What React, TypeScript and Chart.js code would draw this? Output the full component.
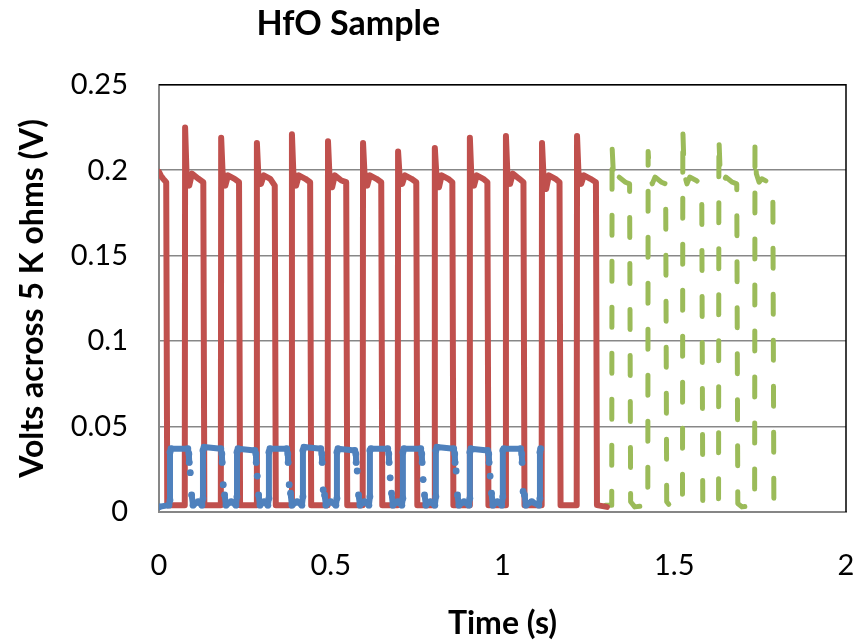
import React, { useEffect, useRef } from "react";
import { Chart, registerables } from "chart.js";

Chart.register(...registerables);

const FONT = "Lato";

const chartTitle = "HfO Sample";
const xTitle = "Time (s)";
const yTitle = "Volts across 5 K ohms (V)";
const xTickLabels = ["0", "0.5", "1", "1.5", "2"];
const yTickLabels = ["0", "0.05", "0.1", "0.15", "0.2", "0.25"];

// [time (s), volts]
const redPoints: [number, number][] = [
  [0.000, 0.199], [0.005, 0.197], [0.012, 0.195], [0.021, 0.193], [0.024, 0.004],
  [0.075, 0.004], [0.076, 0.225], [0.080, 0.199], [0.088, 0.191], [0.096, 0.198], [0.115, 0.195], [0.129, 0.193], [0.132, 0.004],
  [0.180, 0.004], [0.181, 0.219], [0.185, 0.199], [0.193, 0.191], [0.201, 0.197], [0.220, 0.195], [0.233, 0.193], [0.236, 0.004],
  [0.284, 0.004], [0.285, 0.216], [0.289, 0.198], [0.297, 0.192], [0.305, 0.197], [0.324, 0.195], [0.337, 0.191], [0.340, 0.004],
  [0.386, 0.004], [0.387, 0.221], [0.391, 0.199], [0.399, 0.191], [0.407, 0.197], [0.426, 0.195], [0.440, 0.193], [0.443, 0.004],
  [0.491, 0.004], [0.492, 0.217], [0.496, 0.198], [0.504, 0.190], [0.512, 0.197], [0.531, 0.194], [0.545, 0.193], [0.548, 0.004],
  [0.593, 0.004], [0.594, 0.216], [0.598, 0.199], [0.606, 0.191], [0.614, 0.197], [0.633, 0.195], [0.647, 0.193], [0.650, 0.004],
  [0.695, 0.004], [0.696, 0.211], [0.700, 0.198], [0.708, 0.192], [0.716, 0.197], [0.735, 0.195], [0.749, 0.193], [0.752, 0.004],
  [0.802, 0.004], [0.803, 0.213], [0.807, 0.199], [0.815, 0.190], [0.823, 0.197], [0.842, 0.195], [0.854, 0.193], [0.857, 0.004],
  [0.904, 0.004], [0.905, 0.219], [0.909, 0.198], [0.917, 0.191], [0.925, 0.197], [0.944, 0.195], [0.956, 0.193], [0.959, 0.004],
  [1.009, 0.004], [1.010, 0.220], [1.014, 0.199], [1.022, 0.192], [1.030, 0.198], [1.049, 0.195], [1.061, 0.193], [1.064, 0.004],
  [1.114, 0.004], [1.115, 0.216], [1.119, 0.198], [1.127, 0.189], [1.135, 0.197], [1.154, 0.195], [1.166, 0.193], [1.169, 0.004],
  [1.216, 0.004], [1.217, 0.220], [1.221, 0.199], [1.229, 0.192], [1.237, 0.197], [1.256, 0.195], [1.272, 0.193], [1.275, 0.004],
  [1.304, 0.003],
];

const bluePoints: [number, number | null][] = [
  [0.000, 0.003], [0.029, 0.004],
  [0.032, 0.007], [0.032, 0.035], [0.035, 0.037], [0.084, 0.037], [0.087, 0.034], [0.088, 0.029], [0.089, null], [0.091, 0.023], [0.093, null], [0.095, 0.010], [0.099, 0.004], [0.114, 0.006], [0.125, 0.004],
  [0.128, 0.008], [0.128, 0.036], [0.131, 0.038], [0.180, 0.037], [0.183, 0.034], [0.184, 0.029], [0.185, null], [0.187, 0.016], [0.189, null], [0.191, 0.010], [0.195, 0.004], [0.210, 0.006], [0.224, 0.004],
  [0.227, 0.009], [0.227, 0.035], [0.230, 0.037], [0.279, 0.036], [0.282, 0.034], [0.283, 0.029], [0.284, null], [0.286, 0.021], [0.288, null], [0.290, 0.010], [0.294, 0.004], [0.306, 0.006], [0.317, 0.004],
  [0.320, 0.008], [0.320, 0.035], [0.323, 0.037], [0.372, 0.037], [0.375, 0.034], [0.376, 0.029], [0.377, null], [0.379, 0.016], [0.381, null], [0.383, 0.011], [0.387, 0.004], [0.402, 0.006], [0.416, 0.004],
  [0.419, 0.009], [0.419, 0.036], [0.422, 0.038], [0.471, 0.037], [0.474, 0.034], [0.475, 0.029], [0.476, null], [0.478, 0.013], [0.480, null], [0.482, 0.010], [0.486, 0.004], [0.500, 0.006], [0.515, 0.004],
  [0.518, 0.008], [0.518, 0.035], [0.521, 0.037], [0.570, 0.036], [0.573, 0.034], [0.574, 0.029], [0.575, null], [0.577, 0.024], [0.579, null], [0.581, 0.010], [0.585, 0.004], [0.598, 0.006], [0.611, 0.004],
  [0.614, 0.009], [0.614, 0.036], [0.617, 0.037], [0.666, 0.037], [0.669, 0.034], [0.670, 0.029], [0.671, null], [0.673, 0.020], [0.675, null], [0.677, 0.011], [0.681, 0.004], [0.695, 0.006], [0.707, 0.004],
  [0.710, 0.008], [0.710, 0.035], [0.713, 0.037], [0.762, 0.037], [0.765, 0.034], [0.766, 0.029], [0.767, null], [0.769, 0.019], [0.771, null], [0.773, 0.010], [0.777, 0.004], [0.790, 0.006], [0.803, 0.004],
  [0.806, 0.009], [0.806, 0.036], [0.809, 0.038], [0.858, 0.037], [0.861, 0.034], [0.862, 0.029], [0.863, null], [0.865, 0.024], [0.867, null], [0.869, 0.010], [0.873, 0.004], [0.888, 0.006], [0.902, 0.004],
  [0.905, 0.008], [0.905, 0.035], [0.908, 0.037], [0.957, 0.036], [0.960, 0.034], [0.961, 0.029], [0.962, null], [0.964, 0.021], [0.966, null], [0.968, 0.011], [0.972, 0.004], [0.985, 0.006], [0.998, 0.004],
  [1.001, 0.009], [1.001, 0.036], [1.004, 0.037], [1.053, 0.037], [1.056, 0.034], [1.057, 0.029], [1.058, null], [1.060, 0.012], [1.062, null], [1.064, 0.010], [1.068, 0.004], [1.085, 0.006], [1.106, 0.004],
  [1.109, 0.008], [1.109, 0.035], [1.111, 0.037],
];

const greenPoints: [number, number][] = [
  [1.300, 0.004], [1.318, 0.004],
  [1.319, 0.214], [1.323, 0.197], [1.331, 0.191], [1.339, 0.196], [1.358, 0.193], [1.370, 0.192], [1.373, 0.006], [1.385, 0.003], [1.423, 0.004],
  [1.424, 0.211], [1.428, 0.198], [1.436, 0.192], [1.444, 0.196], [1.463, 0.193], [1.475, 0.192], [1.478, 0.006], [1.490, 0.003], [1.524, 0.004],
  [1.525, 0.2235], [1.529, 0.198], [1.537, 0.192], [1.545, 0.196], [1.564, 0.194], [1.580, 0.192], [1.583, 0.006], [1.595, 0.003], [1.629, 0.004],
  [1.630, 0.219], [1.634, 0.197], [1.642, 0.192], [1.650, 0.196], [1.669, 0.193], [1.682, 0.192], [1.685, 0.005], [1.697, 0.003], [1.734, 0.004],
  [1.735, 0.214], [1.739, 0.198], [1.747, 0.193], [1.755, 0.195], [1.774, 0.193], [1.787, 0.192], [1.790, 0.005], [1.810, 0.003], [1.837, 0.003],
];

const toXY = (pts: [number, number | null][]) => pts.map(([x, y]) => ({ x, y }));

const framePlugin = {
  id: "frame",
  afterLayout(chart: any) {
    const t = chart.titleBlock;
    if (t) {
      const c = chart.width * 0.406;
      t.left = c - 220;
      t.right = c + 220;
    }
  },
  beforeDatasetsDraw(chart: any) {
    const { ctx, chartArea } = chart;
    const { left, top, right, bottom } = chartArea;
    ctx.save();
    ctx.strokeStyle = "#000";
    ctx.lineWidth = 1.5;
    ctx.beginPath();
    ctx.moveTo(left, top);
    ctx.lineTo(right, top);
    ctx.lineTo(right, bottom);
    ctx.stroke();
    ctx.restore();
  },
};

export default function App() {
  const ref = useRef<HTMLCanvasElement>(null);
  useEffect(() => {
    const canvas = ref.current;
    if (!canvas) return;
    const chart = new Chart(canvas, {
      type: "line",
      data: {
        datasets: [
          {
            label: "blue",
            data: toXY(bluePoints) as any,
            borderColor: "#4F81BD",
            backgroundColor: "#4F81BD",
            borderWidth: 6,
            pointRadius: 3.4,
            pointBorderWidth: 0,
            pointBackgroundColor: "#4F81BD",
            borderJoinStyle: "round",
            borderCapStyle: "round",
            spanGaps: false,
            tension: 0,
          },
          {
            label: "red",
            data: toXY(redPoints) as any,
            borderColor: "#C0504D",
            borderWidth: 6,
            pointRadius: 0,
            borderJoinStyle: "round",
            borderCapStyle: "round",
            tension: 0,
          },
          {
            label: "green",
            data: toXY(greenPoints) as any,
            borderColor: "#9BBB59",
            borderWidth: 5,
            pointRadius: 0,
            borderDash: [20, 26],
            borderJoinStyle: "round",
            borderCapStyle: "round",
            tension: 0,
          },
        ],
      },
      options: {
        animation: false,
        responsive: false,
        events: [],
        layout: { padding: { left: 0, right: 12, top: 0, bottom: 0 } },
        plugins: {
          legend: { display: false },
          tooltip: { enabled: false },
          title: {
            display: true,
            text: chartTitle,
            color: "#000",
            font: { family: FONT, size: 34, weight: "bold" },
            padding: { top: 4, bottom: 40 },
          },
        },
        scales: {
          x: {
            type: "linear",
            min: 0,
            max: 2,
            grid: { display: false, drawTicks: false },
            border: { display: true, color: "#868686", width: 2 },
            ticks: {
              stepSize: 0.5,
              padding: 36,
              color: "#000",
              font: { family: FONT, size: 29 },
              maxRotation: 0,
              callback: (_v: any, i: number) => xTickLabels[i],
            },
            title: {
              display: true,
              text: xTitle,
              color: "#000",
              font: { family: FONT, size: 32, weight: "bold" },
              padding: { top: 0, bottom: 0 },
            },
            afterFit: (s: any) => {
              s.height = 131;
              s.paddingLeft = 0;
              s.paddingRight = 0;
            },
          },
          y: {
            type: "linear",
            min: 0,
            max: 0.25,
            grid: { color: "#878787", lineWidth: 1.5, drawTicks: false },
            border: { display: true, color: "#878787", width: 2 },
            ticks: {
              stepSize: 0.05,
              padding: 31,
              color: "#000",
              font: { family: FONT, size: 29 },
              callback: (_v: any, i: number) => yTickLabels[i],
            },
            title: {
              display: true,
              text: yTitle,
              color: "#000",
              font: { family: FONT, size: 32, weight: "bold" },
              padding: { top: 13, bottom: 0 },
            },
            afterFit: (s: any) => {
              s.width = 159;
            },
          },
        },
      } as any,
      plugins: [framePlugin],
    });
    return () => chart.destroy();
  }, []);

  return (
    <div style={{ position: "absolute", left: 0, top: 0, width: 858, height: 643, background: "#fff" }}>
      <canvas ref={ref} width={858} height={643} style={{ display: "block", width: 858, height: 643 }} />
    </div>
  );
}
